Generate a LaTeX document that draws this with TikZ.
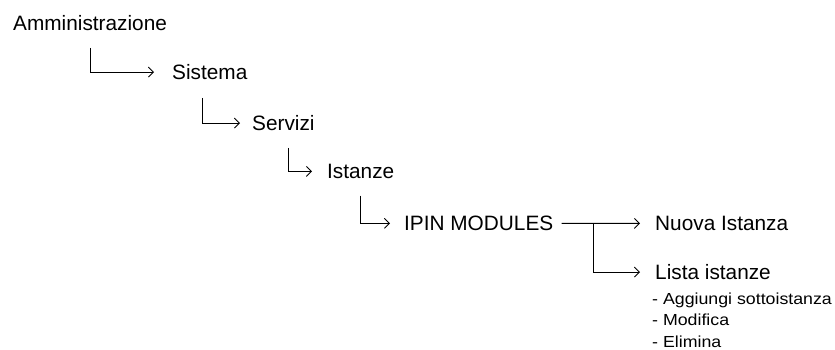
\documentclass[tikz,border=0pt]{standalone}
\usepackage{fontspec}
\setmainfont{Liberation Sans}
\usetikzlibrary{arrows.meta}

\begin{document}
\begin{tikzpicture}[x=1pt, y=-1pt,
  item/.style={anchor=base west, inner sep=0pt, font=\fontsize{20.8}{24}\selectfont},
  subitem/.style={anchor=base west, inner sep=0pt, font=\fontsize{16}{19}\selectfont},
  link/.style={draw=black, line width=0.9pt, -{Straight Barb[length=5pt,width=10pt]}}]

  \useasboundingbox (0,0) rectangle (835,350);

  % menu path
  \node[item] (amm)   at (13,30.5)   {Amministrazione};
  \node[item] (sis)   at (172,79.5)  {Sistema};
  \node[item] (ser)   at (252,130.5) {Servizi};
  \node[item] (ist)   at (327,178.5) {Istanze};
  \node[item] (ipin)  at (404,230.5) {IPIN MODULES};
  \node[item] (nuova) at (655,230.5) {Nuova Istanza};
  \node[item] (lista) at (655,279.5) {Lista istanze};

  % actions available on the instance list
  \node[subitem] (sub1) at (652,304)   {\scalebox{1.11}[1]{- Aggiungi sottoistanza}};
  \node[subitem] (sub2) at (652,325.5) {\scalebox{1.11}[1]{- Modifica}};
  \node[subitem] (sub3) at (652,347)   {\scalebox{1.11}[1]{- Elimina}};

  % elbow connectors between levels
  \draw[link] ([yshift=-17.5pt]amm.base)             |- ([xshift=-18pt]sis.west);
  \draw[link] ([xshift=-7pt,yshift=-18.5pt]sis.base)  |- ([xshift=-12pt]ser.west);
  \draw[link] ([xshift=5.5pt,yshift=-17.5pt]ser.base) |- ([xshift=-15pt]ist.west);
  \draw[link] ([yshift=-17pt]ist.base)               |- ([xshift=-14pt]ipin.west);

  % fork from IPIN MODULES
  \coordinate (fork) at ([xshift=40pt]ipin.east);
  \draw[link] ([xshift=8pt]ipin.east) -- ([xshift=-15pt]nuova.west);
  \draw[link] (fork) |- ([xshift=-15pt]lista.west);
\end{tikzpicture}
\end{document}
